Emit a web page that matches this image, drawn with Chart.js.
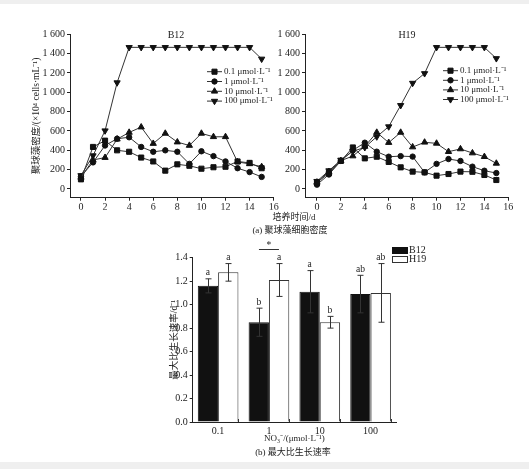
<!DOCTYPE html>
<html>
<head>
<meta charset="utf-8">
<script src="https://cdn.jsdelivr.net/npm/chart.js@4.4.0/dist/chart.umd.min.js"></script>
<style>
    html, body { margin: 0; padding: 0; background: #fff; }
    #wrap { position: relative; width: 529px; height: 469px; overflow: hidden; background: #fff; }
    #wrap canvas { position: absolute; left: 0; top: 0; }
    .band { position: absolute; left: 0; width: 529px; background: #efefef; }
    .txt { position: absolute; font-family: "Liberation Serif", "Noto Sans CJK SC", serif; color: #222;
           white-space: nowrap; transform: translate(-50%, -50%); line-height: 1; }
</style>
</head>
<body>
<div id="wrap">
    <div class="band" style="top:0;height:4px"></div>
    <div class="band" style="top:462px;height:7px"></div>
    <canvas id="densB12" width="529" height="469"></canvas>
    <canvas id="densH19" width="529" height="469"></canvas>
    <canvas id="rateChart" width="529" height="469"></canvas>
    <div class="txt" style="left:176px;top:35px;font-size:10px">B12</div>
    <div class="txt" style="left:407px;top:35px;font-size:10px">H19</div>
    <div class="txt" style="left:294px;top:217px;font-size:9px">培养时间/d</div>
    <div class="txt" style="left:290px;top:230px;font-size:9px">(a) 聚球藻细胞密度</div>
    <div class="txt" style="left:293px;top:452px;font-size:9px">(b) 最大比生长速率</div>
</div>
<script>
// ---- data ----
const days = [0, 1, 2, 3, 4, 5, 6, 7, 8, 9, 10, 11, 12, 13, 14, 15];
const dayTicks = [0, 2, 4, 6, 8, 10, 12, 14, 16];
const densTicks = [0, 200, 400, 600, 800, 1000, 1200, 1400, 1600];

const seriesNames = ['0.1 μmol·L⁻¹', '1 μmol·L⁻¹', '10 μmol·L⁻¹', '100 μmol·L⁻¹'];

// B12, cell density (×10^4 cells/mL)
const b12N01 = [100, 435, 500, 400, 385, 325, 285, 190, 255, 240, 210, 225, 230, 285, 270, 215];
const b12N1 = [130, 275, 450, 520, 535, 435, 385, 400, 385, 260, 390, 340, 285, 215, 175, 125];
const b12N10 = [120, 300, 325, 515, 585, 640, 470, 575, 485, 450, 575, 540, 540, 280, 260, 230];
const b12N100 = [140, 345, 603, 1100, 1465, 1465, 1465, 1465, 1465, 1465, 1465, 1465, 1465, 1465, 1465, 1345];

// H19, cell density
const h19N01 = [65, 165, 290, 430, 317, 334, 280, 224, 180, 172, 138, 155, 180, 178, 145, 93];
const h19N1 = [45, 150, 290, 400, 479, 386, 334, 340, 335, 172, 260, 310, 290, 231, 189, 165];
const h19N10 = [70, 180, 293, 341, 440, 585, 480, 585, 434, 483, 472, 386, 414, 372, 334, 265];
const h19N100 = [80, 190, 300, 390, 430, 541, 645, 865, 1095, 1195, 1465, 1465, 1465, 1465, 1465, 1350];

// max specific growth rate (d^-1)
const concLabels = ['0.1', '1', '10', '100'];
const rateTicks = [0, 0.2, 0.4, 0.6, 0.8, 1.0, 1.2, 1.4];
const rateB12 = [1.16, 0.85, 1.11, 1.09];
const errB12 = [0.06, 0.12, 0.18, 0.16];
const rateH19 = [1.275, 1.21, 0.85, 1.10];
const errH19 = [0.075, 0.14, 0.05, 0.25];
const lettersB12 = ['a', 'b', 'a', 'ab'];
const lettersH19 = ['a', 'a', 'b', 'ab'];
const starLevel = 1.47; // the "*" bracket over the 1 μmol·L⁻¹ pair

const FONT = '"Liberation Serif", "Noto Sans CJK SC", serif';
const INK = '#222';

const markerStyles = [
    { pointStyle: 'rect', pointRadius: 3.6, pointRotation: 0 },
    { pointStyle: 'circle', pointRadius: 2.7, pointRotation: 0 },
    { pointStyle: 'triangle', pointRadius: 3.6, pointRotation: 0 },
    { pointStyle: 'triangle', pointRadius: 3.6, pointRotation: 180 }
];

function spaced(v) {
    return v >= 1000 ? String(v).replace(/(\d)(\d{3})$/, '$1 $2') : String(v);
}

// legend with a short line and the marker in the middle
const lineKey = {
    id: 'lineKey',
    afterDraw(chart, args, opts) {
        const ctx = chart.ctx;
        ctx.save();
        ctx.font = '9px ' + FONT;
        ctx.textBaseline = 'middle';
        ctx.fillStyle = INK;
        chart.data.datasets.forEach((ds, i) => {
            const y = opts.y + i * opts.dy;
            ctx.strokeStyle = '#333';
            ctx.lineWidth = 1;
            ctx.beginPath();
            ctx.moveTo(opts.x, y);
            ctx.lineTo(opts.x + opts.len, y);
            ctx.stroke();
            ctx.fillStyle = '#111';
            ctx.strokeStyle = '#111';
            Chart.helpers.drawPoint(ctx, {
                pointStyle: ds.pointStyle, radius: ds.pointRadius,
                rotation: ds.pointRotation, borderWidth: 1
            }, opts.x + opts.len / 2, y);
            ctx.fillStyle = INK;
            ctx.fillText(ds.label, opts.x + opts.len + 2, y);
        });
        ctx.restore();
    }
};

function densityChart(id, series, pad, xMin, key, yTitle) {
    const datasets = series.map((vals, i) => Object.assign({
        label: seriesNames[i],
        data: days.map((d, j) => ({ x: d, y: vals[j] })),
        borderColor: '#333',
        borderWidth: 1,
        backgroundColor: '#111',
        pointBackgroundColor: '#111',
        pointBorderColor: '#111',
        pointBorderWidth: 1,
        tension: 0
    }, markerStyles[i]));

    return new Chart(document.getElementById(id), {
        type: 'line',
        data: { datasets },
        plugins: [lineKey],
        options: {
            responsive: false,
            animation: false,
            layout: { padding: pad },
            plugins: {
                legend: { display: false },
                tooltip: { enabled: false },
                lineKey: key
            },
            scales: {
                x: {
                    type: 'linear',
                    min: xMin,
                    max: 16,
                    afterBuildTicks: s => { s.ticks = dayTicks.map(v => ({ value: v })); },
                    afterFit: s => { s.height = 12; },
                    border: { display: true, color: INK, width: 1 },
                    grid: { drawOnChartArea: false, drawTicks: true, tickLength: 3, color: INK },
                    ticks: { font: { family: FONT, size: 10 }, color: INK, padding: 1, maxRotation: 0 }
                },
                y: {
                    min: -90,
                    max: 1600,
                    afterBuildTicks: s => { s.ticks = densTicks.map(v => ({ value: v })); },
                    afterFit: s => { s.width = 40; },
                    border: { display: true, color: INK, width: 1 },
                    grid: { drawOnChartArea: false, drawTicks: true, tickLength: 3, color: INK },
                    ticks: { font: { family: FONT, size: 10 }, color: INK, padding: 2, callback: v => spaced(v) },
                    title: {
                        display: !!yTitle, text: yTitle || '', color: INK,
                        font: { family: FONT, size: 9.5 }, padding: { top: 1, bottom: 0 }
                    }
                }
            }
        }
    });
}

densityChart('densB12', [b12N01, b12N1, b12N10, b12N100],
    { left: 30, right: 255.3, top: 34.3, bottom: 259.3 }, -0.91,
    { x: 207, y: 71.7, dy: 9.8, len: 15 },
    '聚球藻密度/(×10⁴ cells·mL⁻¹)');

densityChart('densH19', [h19N01, h19N1, h19N10, h19N100],
    { left: 265, right: 20.7, top: 34.3, bottom: 259.3 }, -1.0,
    { x: 443, y: 70.7, dy: 9.6, len: 15 },
    null);

// error bars, letters, inner ticks, star bracket and box legend for the bar chart
const barExtras = {
    id: 'barExtras',
    afterDatasetsDraw(chart) {
        const ctx = chart.ctx;
        const ys = chart.scales.y;
        const xs = chart.scales.x;
        const errs = [errB12, errH19];
        const vals = [rateB12, rateH19];
        const letters = [lettersB12, lettersH19];
        ctx.save();
        ctx.strokeStyle = '#333';
        ctx.fillStyle = INK;
        ctx.lineWidth = 1;
        ctx.font = '9.5px ' + FONT;
        ctx.textAlign = 'center';
        ctx.textBaseline = 'middle';
        chart.data.datasets.forEach((ds, di) => {
            const meta = chart.getDatasetMeta(di);
            meta.data.forEach((bar, j) => {
                const x = Math.round(bar.x) + 0.5;
                const hi = ys.getPixelForValue(vals[di][j] + errs[di][j]);
                const lo = ys.getPixelForValue(vals[di][j] - errs[di][j]);
                ctx.beginPath();
                ctx.moveTo(x, hi); ctx.lineTo(x, lo);
                ctx.moveTo(x - 3, hi); ctx.lineTo(x + 3, hi);
                ctx.moveTo(x - 3, lo); ctx.lineTo(x + 3, lo);
                ctx.stroke();
                ctx.fillText(letters[di][j], bar.x, hi - 6);
            });
        });
        // small upward ticks on the x axis
        const h19Meta = chart.getDatasetMeta(1);
        ctx.beginPath();
        h19Meta.data.forEach(bar => {
            const x = Math.round(bar.x + bar.width / 2) + 0.5;
            ctx.moveTo(x, xs.top); ctx.lineTo(x, xs.top - 3);
        });
        ctx.stroke();
        // significance bracket
        const cx = xs.getPixelForTick(1);
        const sy = Math.round(ys.getPixelForValue(starLevel)) + 0.5;
        ctx.beginPath();
        ctx.moveTo(cx - 10, sy); ctx.lineTo(cx + 10, sy);
        ctx.stroke();
        ctx.fillText('*', cx, sy - 4);
        // legend boxes
        ctx.textAlign = 'left';
        ctx.font = '10px ' + FONT;
        chart.data.datasets.forEach((ds, di) => {
            const bx = 392, by = 247 + di * 9;
            ctx.fillStyle = ds.backgroundColor;
            ctx.fillRect(bx, by, 15, 6);
            ctx.strokeStyle = ds.borderColor;
            ctx.strokeRect(bx + 0.5, by + 0.5, 15, 6);
            ctx.fillStyle = INK;
            ctx.fillText(ds.label, bx + 17, by + 3.5);
        });
        ctx.restore();
    }
};

new Chart(document.getElementById('rateChart'), {
    type: 'bar',
    data: {
        labels: concLabels,
        datasets: [
            { label: 'B12', data: rateB12, backgroundColor: '#111', borderColor: '#111', borderWidth: 1,
              categoryPercentage: 0.8, barPercentage: 1.0 },
            { label: 'H19', data: rateH19, backgroundColor: '#fff', borderColor: '#333', borderWidth: 1,
              categoryPercentage: 0.8, barPercentage: 1.0 }
        ]
    },
    plugins: [barExtras],
    options: {
        responsive: false,
        animation: false,
        layout: { padding: { left: 150.7, right: 133, top: 257.7, bottom: 21 } },
        plugins: { legend: { display: false }, tooltip: { enabled: false } },
        scales: {
            x: {
                offset: true,
                afterFit: s => { s.height = 26; },
                border: { display: true, color: INK, width: 1 },
                grid: { drawOnChartArea: false, drawTicks: false },
                ticks: { font: { family: FONT, size: 10 }, color: INK, padding: 3 },
                title: {
                    display: true, text: 'NO₃⁻/(μmol·L⁻¹)', color: INK,
                    font: { family: FONT, size: 9 }, padding: { top: 2, bottom: 4 }
                }
            },
            y: {
                min: 0,
                max: 1.4,
                afterBuildTicks: s => { s.ticks = rateTicks.map(v => ({ value: v })); },
                afterFit: s => { s.width = 42; },
                border: { display: true, color: INK, width: 1 },
                grid: { drawOnChartArea: false, drawTicks: true, tickLength: 3, color: INK },
                ticks: { font: { family: FONT, size: 10 }, color: INK, padding: 2, callback: v => v.toFixed(1) },
                title: {
                    display: true, text: '最大比生长速率/d⁻¹', color: INK,
                    font: { family: FONT, size: 9.5 }, padding: { top: 18, bottom: 0 }
                }
            }
        }
    }
});
</script>
</body>
</html>
